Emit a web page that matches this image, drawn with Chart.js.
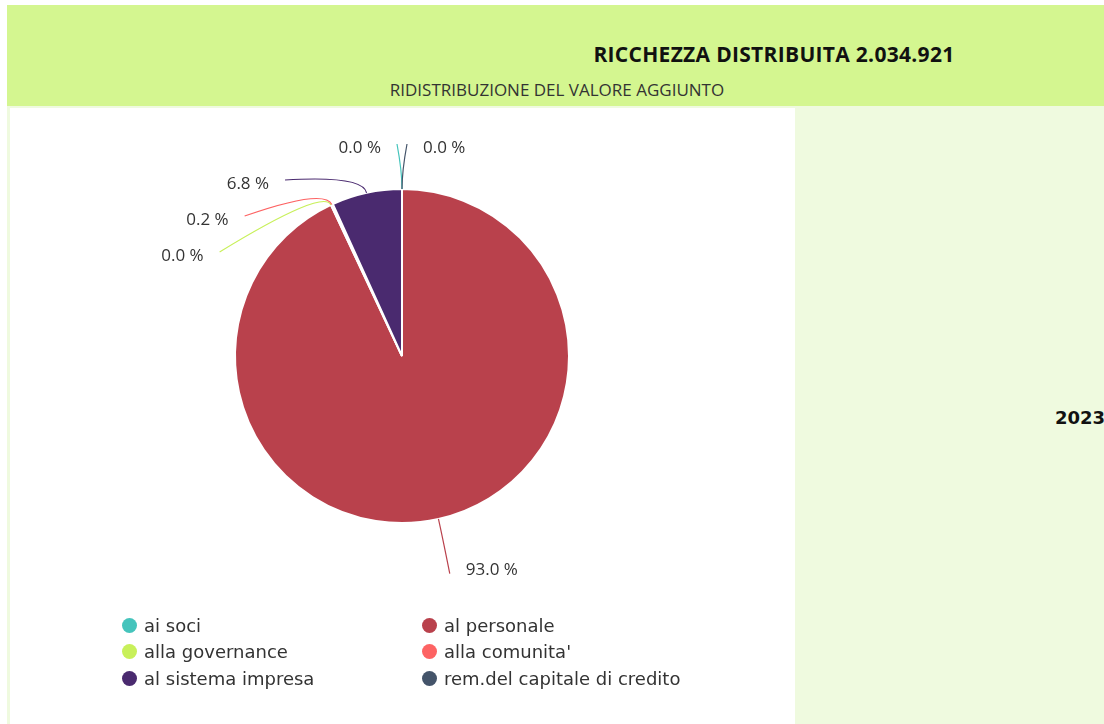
<!DOCTYPE html>
<html>
<head>
<meta charset="utf-8">
<script src="https://cdn.jsdelivr.net/npm/chart.js@4.4.1/dist/chart.umd.min.js"></script>
<style>
  html, body { margin: 0; padding: 0; background: #fff; }
  body { width: 1104px; height: 724px; position: relative; overflow: hidden; font-family: "Open Sans", sans-serif; }
  #header { position: absolute; left: 7px; top: 5px; width: 1097px; height: 101px; background: #d4f690; }
  #title { position: absolute; left: 0; top: 35px; width: 1534px; text-align: center; font-weight: bold; font-size: 21px; letter-spacing: 0.3px; color: #111; }
  #subtitle { position: absolute; left: 0; top: 73px; width: 1100px; text-align: center; font-size: 17px; color: #333; }
  #strip { position: absolute; left: 7px; top: 106px; width: 1097px; height: 618px; background: #effadf; }
  #panel { position: absolute; left: 10px; top: 108px; width: 785px; height: 616px; background: #fff; }
  #year { position: absolute; left: 1055px; top: 407px; font-family: "DejaVu Sans", sans-serif; font-weight: bold; font-size: 18px; color: #111; white-space: nowrap; }
  #legend { position: absolute; left: 122px; top: 614px; display: grid; grid-template-columns: 300px 300px; row-gap: 4.5px;
            font-family: "DejaVu Sans", sans-serif; font-size: 18px; color: #333; }
  .item { display: flex; align-items: center; height: 22px; }
  .dot { width: 15px; height: 15px; border-radius: 50%; margin-right: 7px; }
</style>
</head>
<body>
<div id="header">
  <div id="title"></div>
  <div id="subtitle"></div>
</div>
<div id="strip"></div>
<div id="panel"><canvas id="pie" width="785" height="616"></canvas></div>
<div id="year"></div>
<div id="legend"></div>
<script>
// Ricchezza distribuita 2023
const chartTitle = 'RICCHEZZA DISTRIBUITA 2.034.921';
const chartSubtitle = 'RIDISTRIBUZIONE DEL VALORE AGGIUNTO';
const yearLabel = '2023';

const categories = ['ai soci', 'al personale', 'alla governance', "alla comunita'", 'al sistema impresa', 'rem.del capitale di credito'];
const percentages = [0.0, 93.0, 0.0, 0.2, 6.8, 0.0];
const sliceColors = ['#45c4bc', '#b9414c', '#c8f05a', '#fd6363', '#4a2a6f', '#44546a'];

document.getElementById('title').textContent = chartTitle;
document.getElementById('subtitle').textContent = chartSubtitle;
document.getElementById('year').textContent = yearLabel;

// outside labels with leader lines, spread vertically per side
const outLabels = {
  id: 'outLabels',
  afterDatasetsDraw(chart) {
    const ctx = chart.ctx;
    const meta = chart.getDatasetMeta(0);
    const n = meta.data.length;
    const gap = 36;
    const items = [];

    meta.data.forEach((arc, i) => {
      const p = arc.getProps(['x', 'y', 'startAngle', 'endAngle', 'outerRadius'], true);
      const mid = (p.startAngle + p.endAngle) / 2;
      const cos = Math.cos(mid), sin = Math.sin(mid);
      let side = cos < 0 ? -1 : 1;
      if (Math.abs(cos) < 0.01) side = i < n / 2 ? -1 : 1;
      // labels below the centre sit a bit further out
      const R = p.outerRadius + (sin > 0 ? 52 : 41);
      items.push({ i, p, cos, sin, side, R, y: p.y + R * sin });
    });

    [-1, 1].forEach(side => {
      const list = items.filter(it => it.side === side).sort((a, b) => a.y - b.y);
      for (let k = 1; k < list.length; k++) {
        if (list[k].y < list[k - 1].y + gap) list[k].y = list[k - 1].y + gap;
      }
    });

    ctx.save();
    ctx.font = '17px "Open Sans", sans-serif';
    ctx.textBaseline = 'middle';
    items.forEach(it => {
      const p = it.p, r = p.outerRadius;
      const dy = it.y - p.y;
      let dx = Math.sqrt(Math.max(0, it.R * it.R - dy * dy));
      if (dx < 5) dx = 5;
      const ex = p.x + it.side * dx;
      const x0 = p.x + r * it.cos, y0 = p.y + r * it.sin;
      const x1 = p.x + (r + 18) * it.cos, y1 = p.y + (r + 18) * it.sin;

      ctx.strokeStyle = sliceColors[it.i];
      ctx.lineWidth = 1.2;
      ctx.beginPath();
      ctx.moveTo(x0, y0);
      ctx.quadraticCurveTo(x1, y1, ex, it.y - 4 * Math.sign(-dy));
      ctx.stroke();

      ctx.fillStyle = '#333';
      ctx.textAlign = it.side < 0 ? 'right' : 'left';
      ctx.fillText(percentages[it.i].toFixed(1) + ' %', ex + it.side * 16, it.y);
    });
    ctx.restore();
  }
};

const chart = new Chart(document.getElementById('pie'), {
  type: 'pie',
  data: {
    labels: categories,
    datasets: [{
      data: percentages,
      backgroundColor: sliceColors,
      borderColor: '#ffffff',
      borderWidth: 2
    }]
  },
  options: {
    responsive: false,
    animation: false,
    events: [],
    layout: { padding: { left: 224, right: 225, top: 80, bottom: 200 } },
    plugins: {
      legend: { display: false },
      tooltip: { enabled: false }
    }
  },
  plugins: [outLabels]
});

// legend in two columns
const legend = document.getElementById('legend');
categories.forEach((name, i) => {
  const item = document.createElement('div');
  item.className = 'item';
  item.innerHTML = `<span class="dot" style="background:${sliceColors[i]}"></span><span>${name}</span>`;
  legend.appendChild(item);
});
</script>
</body>
</html>
